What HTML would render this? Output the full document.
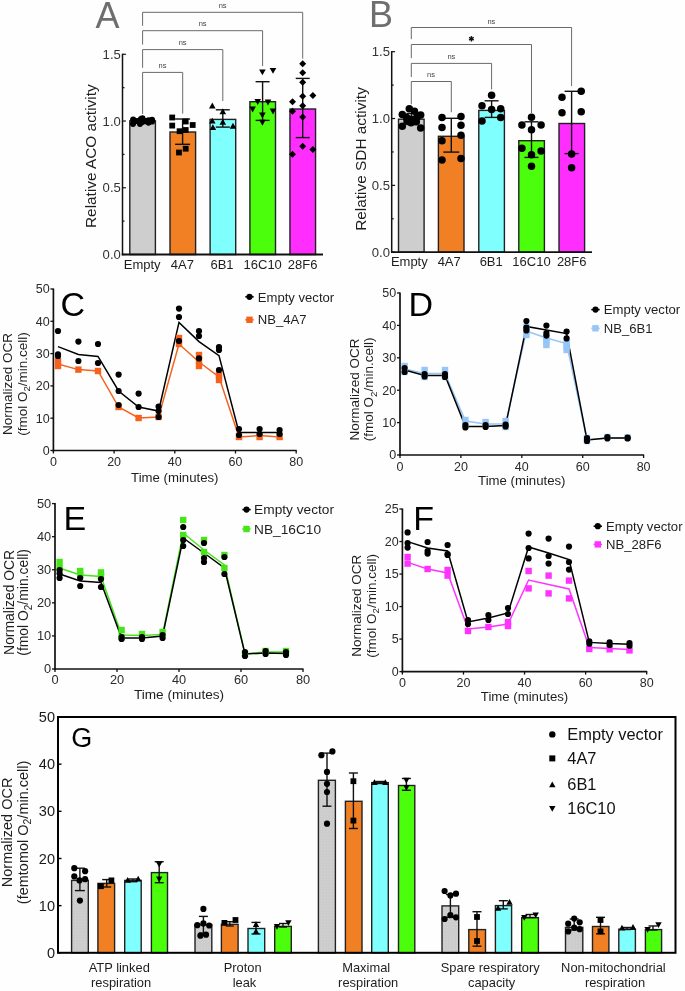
<!DOCTYPE html>
<html><head><meta charset="utf-8"><style>
html,body{margin:0;padding:0;background:#fff;}
svg{display:block;font-family:"Liberation Sans", sans-serif;filter:blur(0.5px);}
</style></head><body>
<svg width="685" height="991" viewBox="0 0 685 991">
<rect width="685" height="991" fill="#fefefe"/>
<rect x="129.80" y="120.80" width="25.60" height="133.70" fill="#cecece" stroke="#222" stroke-width="1.4" />
<rect x="170.00" y="132.00" width="25.60" height="122.50" fill="#f08023" stroke="#222" stroke-width="1.4" />
<rect x="210.10" y="119.40" width="25.60" height="135.10" fill="#80ffff" stroke="#222" stroke-width="1.4" />
<rect x="249.90" y="101.70" width="25.60" height="152.80" fill="#4bff0c" stroke="#222" stroke-width="1.4" />
<rect x="289.95" y="109.00" width="25.60" height="145.50" fill="#ff2eff" stroke="#222" stroke-width="1.4" />
<line x1="122.50" y1="53.70" x2="122.50" y2="255.30" stroke="#111" stroke-width="1.5" />
<line x1="121.80" y1="254.50" x2="323.00" y2="254.50" stroke="#111" stroke-width="1.8" />
<line x1="122.50" y1="254.50" x2="125.90" y2="254.50" stroke="#111" stroke-width="1.2" />
<line x1="122.50" y1="221.13" x2="124.50" y2="221.13" stroke="#111" stroke-width="1.2" />
<line x1="122.50" y1="187.77" x2="125.90" y2="187.77" stroke="#111" stroke-width="1.2" />
<line x1="122.50" y1="154.40" x2="124.50" y2="154.40" stroke="#111" stroke-width="1.2" />
<line x1="122.50" y1="121.03" x2="125.90" y2="121.03" stroke="#111" stroke-width="1.2" />
<line x1="122.50" y1="87.67" x2="124.50" y2="87.67" stroke="#111" stroke-width="1.2" />
<line x1="122.50" y1="54.30" x2="125.90" y2="54.30" stroke="#111" stroke-width="1.2" />
<text x="120.80" y="259.00" font-size="13.1" text-anchor="end" fill="#333" >0.0</text>
<text x="120.80" y="192.27" font-size="13.1" text-anchor="end" fill="#333" >0.5</text>
<text x="120.80" y="125.53" font-size="13.1" text-anchor="end" fill="#333" >1.0</text>
<text x="120.80" y="58.80" font-size="13.1" text-anchor="end" fill="#333" >1.5</text>
<text x="142.20" y="269.00" font-size="13" text-anchor="middle" fill="#1e1e1e" >Empty</text>
<text x="182.40" y="269.00" font-size="13" text-anchor="middle" fill="#1e1e1e" >4A7</text>
<text x="222.00" y="269.00" font-size="13" text-anchor="middle" fill="#1e1e1e" >6B1</text>
<text x="262.70" y="269.00" font-size="13" text-anchor="middle" fill="#1e1e1e" >16C10</text>
<text x="302.60" y="269.00" font-size="13" text-anchor="middle" fill="#1e1e1e" >28F6</text>
<text transform="translate(96.3,156.2) rotate(-90)" font-size="15.4" text-anchor="middle" fill="#1e1e1e">Relative ACO activity</text>
<text x="95.60" y="28.00" font-size="36" text-anchor="start" fill="#6e6e6e" >A</text>
<polyline points="142.60,114.00 142.60,72.40 182.70,72.40 182.70,113.60" fill="none" stroke="#6a6a6a" stroke-width="1"/>
<text x="162.50" y="68.00" font-size="7.5" text-anchor="middle" fill="#444" >ns</text>
<polyline points="142.60,67.80 142.60,49.60 222.80,49.60 222.80,101.00" fill="none" stroke="#6a6a6a" stroke-width="1"/>
<text x="182.60" y="45.00" font-size="7.5" text-anchor="middle" fill="#444" >ns</text>
<polyline points="142.60,44.60 142.60,30.70 262.60,30.70 262.60,66.00" fill="none" stroke="#6a6a6a" stroke-width="1"/>
<text x="202.60" y="26.20" font-size="7.5" text-anchor="middle" fill="#444" >ns</text>
<polyline points="142.60,25.80 142.60,12.30 302.70,12.30 302.70,58.60" fill="none" stroke="#6a6a6a" stroke-width="1"/>
<text x="222.60" y="7.80" font-size="7.5" text-anchor="middle" fill="#444" >ns</text>
<line x1="142.60" y1="119.20" x2="142.60" y2="122.80" stroke="#111" stroke-width="1.4" />
<line x1="137.60" y1="119.20" x2="147.60" y2="119.20" stroke="#111" stroke-width="1.4" />
<line x1="137.60" y1="122.80" x2="147.60" y2="122.80" stroke="#111" stroke-width="1.4" />
<line x1="182.60" y1="119.00" x2="182.60" y2="144.30" stroke="#111" stroke-width="1.4" />
<line x1="175.10" y1="119.00" x2="190.10" y2="119.00" stroke="#111" stroke-width="1.4" />
<line x1="175.10" y1="144.30" x2="190.10" y2="144.30" stroke="#111" stroke-width="1.4" />
<line x1="222.80" y1="109.80" x2="222.80" y2="127.10" stroke="#111" stroke-width="1.4" />
<line x1="215.80" y1="109.80" x2="229.80" y2="109.80" stroke="#111" stroke-width="1.4" />
<line x1="215.80" y1="127.10" x2="229.80" y2="127.10" stroke="#111" stroke-width="1.4" />
<line x1="262.60" y1="81.70" x2="262.60" y2="120.40" stroke="#111" stroke-width="1.4" />
<line x1="255.60" y1="81.70" x2="269.60" y2="81.70" stroke="#111" stroke-width="1.4" />
<line x1="255.60" y1="120.40" x2="269.60" y2="120.40" stroke="#111" stroke-width="1.4" />
<line x1="302.70" y1="78.40" x2="302.70" y2="137.60" stroke="#111" stroke-width="1.4" />
<line x1="295.70" y1="78.40" x2="309.70" y2="78.40" stroke="#111" stroke-width="1.4" />
<line x1="295.70" y1="137.60" x2="309.70" y2="137.60" stroke="#111" stroke-width="1.4" />
<circle cx="133.20" cy="119.60" r="3.1" fill="#000"/>
<circle cx="133.00" cy="123.80" r="3.1" fill="#000"/>
<circle cx="137.00" cy="121.00" r="3.1" fill="#000"/>
<circle cx="141.00" cy="119.00" r="3.1" fill="#000"/>
<circle cx="142.40" cy="118.30" r="3.1" fill="#000"/>
<circle cx="142.00" cy="122.00" r="3.1" fill="#000"/>
<circle cx="140.00" cy="123.80" r="3.1" fill="#000"/>
<circle cx="145.50" cy="121.20" r="3.1" fill="#000"/>
<circle cx="148.50" cy="120.30" r="3.1" fill="#000"/>
<circle cx="148.50" cy="122.60" r="3.1" fill="#000"/>
<circle cx="152.00" cy="119.80" r="3.1" fill="#000"/>
<circle cx="152.00" cy="121.50" r="3.1" fill="#000"/>
<rect x="169.30" y="114.60" width="5.8" height="5.8" fill="#000"/>
<rect x="169.30" y="122.70" width="5.8" height="5.8" fill="#000"/>
<rect x="182.80" y="118.60" width="5.8" height="5.8" fill="#000"/>
<rect x="189.80" y="122.10" width="5.8" height="5.8" fill="#000"/>
<rect x="176.70" y="128.30" width="5.8" height="5.8" fill="#000"/>
<rect x="182.80" y="127.10" width="5.8" height="5.8" fill="#000"/>
<rect x="182.80" y="145.80" width="5.8" height="5.8" fill="#000"/>
<rect x="176.10" y="149.60" width="5.8" height="5.8" fill="#000"/>
<polygon points="212.30,102.44 209.00,108.38 215.60,108.38" fill="#000"/>
<polygon points="222.80,108.34 219.50,114.28 226.10,114.28" fill="#000"/>
<polygon points="212.30,117.64 209.00,123.58 215.60,123.58" fill="#000"/>
<polygon points="222.80,118.84 219.50,124.78 226.10,124.78" fill="#000"/>
<polygon points="212.90,124.14 209.60,130.08 216.20,130.08" fill="#000"/>
<polygon points="233.00,122.84 229.70,128.78 236.30,128.78" fill="#000"/>
<polygon points="262.40,75.36 259.10,69.42 265.70,69.42" fill="#000"/>
<polygon points="273.00,73.86 269.70,67.92 276.30,67.92" fill="#000"/>
<polygon points="257.70,104.96 254.40,99.02 261.00,99.02" fill="#000"/>
<polygon points="268.00,105.56 264.70,99.62 271.30,99.62" fill="#000"/>
<polygon points="252.60,112.56 249.30,106.62 255.90,106.62" fill="#000"/>
<polygon points="273.00,114.56 269.70,108.62 276.30,108.62" fill="#000"/>
<polygon points="262.40,118.46 259.10,112.52 265.70,112.52" fill="#000"/>
<polygon points="262.40,125.76 259.10,119.82 265.70,119.82" fill="#000"/>
<polygon points="302.70,60.30 306.20,63.80 302.70,67.30 299.20,63.80" fill="#000"/>
<polygon points="302.70,69.30 306.20,72.80 302.70,76.30 299.20,72.80" fill="#000"/>
<polygon points="302.70,78.80 306.20,82.30 302.70,85.80 299.20,82.30" fill="#000"/>
<polygon points="302.70,92.70 306.20,96.20 302.70,99.70 299.20,96.20" fill="#000"/>
<polygon points="312.90,92.10 316.40,95.60 312.90,99.10 309.40,95.60" fill="#000"/>
<polygon points="292.50,98.20 296.00,101.70 292.50,105.20 289.00,101.70" fill="#000"/>
<polygon points="302.70,102.30 306.20,105.80 302.70,109.30 299.20,105.80" fill="#000"/>
<polygon points="292.50,107.70 296.00,111.20 292.50,114.70 289.00,111.20" fill="#000"/>
<polygon points="302.70,113.50 306.20,117.00 302.70,120.50 299.20,117.00" fill="#000"/>
<polygon points="302.70,142.70 306.20,146.20 302.70,149.70 299.20,146.20" fill="#000"/>
<polygon points="312.90,146.10 316.40,149.60 312.90,153.10 309.40,149.60" fill="#000"/>
<polygon points="292.50,150.80 296.00,154.30 292.50,157.80 289.00,154.30" fill="#000"/>
<rect x="398.50" y="119.20" width="25.60" height="133.00" fill="#cecece" stroke="#222" stroke-width="1.4" />
<rect x="438.40" y="136.30" width="25.60" height="115.90" fill="#f08023" stroke="#222" stroke-width="1.4" />
<rect x="478.80" y="110.40" width="25.60" height="141.80" fill="#80ffff" stroke="#222" stroke-width="1.4" />
<rect x="518.80" y="140.70" width="25.60" height="111.50" fill="#4bff0c" stroke="#222" stroke-width="1.4" />
<rect x="559.00" y="123.50" width="25.60" height="128.70" fill="#ff2eff" stroke="#222" stroke-width="1.4" />
<line x1="391.70" y1="51.10" x2="391.70" y2="253.00" stroke="#111" stroke-width="1.5" />
<line x1="391.00" y1="252.20" x2="592.00" y2="252.20" stroke="#111" stroke-width="1.8" />
<line x1="391.70" y1="252.20" x2="395.10" y2="252.20" stroke="#111" stroke-width="1.2" />
<line x1="391.70" y1="218.78" x2="393.70" y2="218.78" stroke="#111" stroke-width="1.2" />
<line x1="391.70" y1="185.37" x2="395.10" y2="185.37" stroke="#111" stroke-width="1.2" />
<line x1="391.70" y1="151.95" x2="393.70" y2="151.95" stroke="#111" stroke-width="1.2" />
<line x1="391.70" y1="118.53" x2="395.10" y2="118.53" stroke="#111" stroke-width="1.2" />
<line x1="391.70" y1="85.12" x2="393.70" y2="85.12" stroke="#111" stroke-width="1.2" />
<line x1="391.70" y1="51.70" x2="395.10" y2="51.70" stroke="#111" stroke-width="1.2" />
<text x="390.00" y="256.70" font-size="13.1" text-anchor="end" fill="#333" >0.0</text>
<text x="390.00" y="189.87" font-size="13.1" text-anchor="end" fill="#333" >0.5</text>
<text x="390.00" y="123.03" font-size="13.1" text-anchor="end" fill="#333" >1.0</text>
<text x="390.00" y="56.20" font-size="13.1" text-anchor="end" fill="#333" >1.5</text>
<text x="409.30" y="266.40" font-size="13" text-anchor="middle" fill="#1e1e1e" >Empty</text>
<text x="449.20" y="266.40" font-size="13" text-anchor="middle" fill="#1e1e1e" >4A7</text>
<text x="491.20" y="266.40" font-size="13" text-anchor="middle" fill="#1e1e1e" >6B1</text>
<text x="531.50" y="266.40" font-size="13" text-anchor="middle" fill="#1e1e1e" >16C10</text>
<text x="571.70" y="266.40" font-size="13" text-anchor="middle" fill="#1e1e1e" >28F6</text>
<text transform="translate(366,159) rotate(-90)" font-size="15.4" text-anchor="middle" fill="#1e1e1e">Relative SDH activity</text>
<text x="368.90" y="27.30" font-size="36" text-anchor="start" fill="#6e6e6e" >B</text>
<polyline points="411.30,104.30 411.30,81.50 451.30,81.50 451.30,112.20" fill="none" stroke="#6a6a6a" stroke-width="1"/>
<text x="431.00" y="76.80" font-size="7.5" text-anchor="middle" fill="#444" >ns</text>
<polyline points="411.30,77.00 411.30,63.40 491.60,63.40 491.60,89.40" fill="none" stroke="#6a6a6a" stroke-width="1"/>
<text x="451.40" y="58.70" font-size="7.5" text-anchor="middle" fill="#444" >ns</text>
<polyline points="411.30,58.20 411.30,44.50 531.50,44.50 531.50,113.00" fill="none" stroke="#6a6a6a" stroke-width="1"/>
<line x1="471.40" y1="36.10" x2="471.40" y2="41.50" stroke="#111" stroke-width="1.5" />
<line x1="469.06" y1="37.45" x2="473.74" y2="40.15" stroke="#111" stroke-width="1.5" />
<line x1="469.06" y1="40.15" x2="473.74" y2="37.45" stroke="#111" stroke-width="1.5" />
<polyline points="411.30,39.20 411.30,27.50 571.60,27.50 571.60,86.00" fill="none" stroke="#6a6a6a" stroke-width="1"/>
<text x="491.40" y="23.70" font-size="7.5" text-anchor="middle" fill="#444" >ns</text>
<line x1="411.30" y1="113.50" x2="411.30" y2="124.50" stroke="#111" stroke-width="1.4" />
<line x1="406.30" y1="113.50" x2="416.30" y2="113.50" stroke="#111" stroke-width="1.4" />
<line x1="406.30" y1="124.50" x2="416.30" y2="124.50" stroke="#111" stroke-width="1.4" />
<line x1="451.30" y1="118.30" x2="451.30" y2="152.10" stroke="#111" stroke-width="1.4" />
<line x1="443.30" y1="118.30" x2="459.30" y2="118.30" stroke="#111" stroke-width="1.4" />
<line x1="443.30" y1="152.10" x2="459.30" y2="152.10" stroke="#111" stroke-width="1.4" />
<line x1="491.60" y1="100.80" x2="491.60" y2="117.40" stroke="#111" stroke-width="1.4" />
<line x1="484.60" y1="100.80" x2="498.60" y2="100.80" stroke="#111" stroke-width="1.4" />
<line x1="484.60" y1="117.40" x2="498.60" y2="117.40" stroke="#111" stroke-width="1.4" />
<line x1="531.50" y1="121.80" x2="531.50" y2="157.40" stroke="#111" stroke-width="1.4" />
<line x1="524.50" y1="121.80" x2="538.50" y2="121.80" stroke="#111" stroke-width="1.4" />
<line x1="524.50" y1="157.40" x2="538.50" y2="157.40" stroke="#111" stroke-width="1.4" />
<line x1="571.60" y1="91.30" x2="571.60" y2="153.60" stroke="#111" stroke-width="1.4" />
<line x1="564.60" y1="91.30" x2="578.60" y2="91.30" stroke="#111" stroke-width="1.4" />
<line x1="564.60" y1="153.60" x2="578.60" y2="153.60" stroke="#111" stroke-width="1.4" />
<circle cx="409.30" cy="108.70" r="3.75" fill="#000"/>
<circle cx="414.50" cy="111.30" r="3.75" fill="#000"/>
<circle cx="402.30" cy="114.40" r="3.75" fill="#000"/>
<circle cx="420.70" cy="115.10" r="3.75" fill="#000"/>
<circle cx="406.60" cy="117.40" r="3.75" fill="#000"/>
<circle cx="411.90" cy="119.20" r="3.75" fill="#000"/>
<circle cx="416.30" cy="121.80" r="3.75" fill="#000"/>
<circle cx="402.30" cy="126.20" r="3.75" fill="#000"/>
<circle cx="420.70" cy="127.90" r="3.75" fill="#000"/>
<circle cx="411.00" cy="122.70" r="3.75" fill="#000"/>
<circle cx="407.00" cy="121.00" r="3.75" fill="#000"/>
<circle cx="417.00" cy="117.00" r="3.75" fill="#000"/>
<circle cx="442.00" cy="117.40" r="3.75" fill="#000"/>
<circle cx="461.00" cy="116.50" r="3.75" fill="#000"/>
<circle cx="442.00" cy="127.60" r="3.75" fill="#000"/>
<circle cx="461.00" cy="125.30" r="3.75" fill="#000"/>
<circle cx="461.00" cy="135.30" r="3.75" fill="#000"/>
<circle cx="442.00" cy="140.70" r="3.75" fill="#000"/>
<circle cx="442.00" cy="160.00" r="3.75" fill="#000"/>
<circle cx="461.00" cy="158.60" r="3.75" fill="#000"/>
<circle cx="491.60" cy="95.20" r="3.75" fill="#000"/>
<circle cx="482.00" cy="105.70" r="3.75" fill="#000"/>
<circle cx="491.60" cy="109.50" r="3.75" fill="#000"/>
<circle cx="500.70" cy="108.70" r="3.75" fill="#000"/>
<circle cx="482.00" cy="120.90" r="3.75" fill="#000"/>
<circle cx="500.70" cy="117.40" r="3.75" fill="#000"/>
<circle cx="531.50" cy="117.30" r="3.75" fill="#000"/>
<circle cx="521.90" cy="125.00" r="3.75" fill="#000"/>
<circle cx="541.10" cy="125.00" r="3.75" fill="#000"/>
<circle cx="531.50" cy="129.80" r="3.75" fill="#000"/>
<circle cx="521.90" cy="148.30" r="3.75" fill="#000"/>
<circle cx="541.10" cy="151.00" r="3.75" fill="#000"/>
<circle cx="531.50" cy="154.80" r="3.75" fill="#000"/>
<circle cx="531.50" cy="166.20" r="3.75" fill="#000"/>
<circle cx="581.20" cy="91.30" r="3.75" fill="#000"/>
<circle cx="562.00" cy="97.30" r="3.75" fill="#000"/>
<circle cx="562.00" cy="112.80" r="3.75" fill="#000"/>
<circle cx="581.20" cy="111.70" r="3.75" fill="#000"/>
<circle cx="571.60" cy="154.00" r="3.75" fill="#000"/>
<circle cx="571.60" cy="167.70" r="3.75" fill="#000"/>
<line x1="53.40" y1="288.50" x2="53.40" y2="451.40" stroke="#111" stroke-width="1.7" />
<line x1="52.60" y1="450.50" x2="296.70" y2="450.50" stroke="#111" stroke-width="1.7" />
<line x1="50.40" y1="450.50" x2="53.40" y2="450.50" stroke="#111" stroke-width="1.3" />
<text x="49.60" y="454.80" font-size="12.5" text-anchor="end" fill="#2a2a2a" >0</text>
<line x1="50.40" y1="418.20" x2="53.40" y2="418.20" stroke="#111" stroke-width="1.3" />
<text x="49.60" y="422.50" font-size="12.5" text-anchor="end" fill="#2a2a2a" >10</text>
<line x1="50.40" y1="385.90" x2="53.40" y2="385.90" stroke="#111" stroke-width="1.3" />
<text x="49.60" y="390.20" font-size="12.5" text-anchor="end" fill="#2a2a2a" >20</text>
<line x1="50.40" y1="353.60" x2="53.40" y2="353.60" stroke="#111" stroke-width="1.3" />
<text x="49.60" y="357.90" font-size="12.5" text-anchor="end" fill="#2a2a2a" >30</text>
<line x1="50.40" y1="321.30" x2="53.40" y2="321.30" stroke="#111" stroke-width="1.3" />
<text x="49.60" y="325.60" font-size="12.5" text-anchor="end" fill="#2a2a2a" >40</text>
<line x1="50.40" y1="289.00" x2="53.40" y2="289.00" stroke="#111" stroke-width="1.3" />
<text x="49.60" y="293.30" font-size="12.5" text-anchor="end" fill="#2a2a2a" >50</text>
<line x1="53.40" y1="450.50" x2="53.40" y2="453.50" stroke="#111" stroke-width="1.3" />
<text x="53.40" y="465.70" font-size="12.5" text-anchor="middle" fill="#2a2a2a" >0</text>
<line x1="114.10" y1="450.50" x2="114.10" y2="453.50" stroke="#111" stroke-width="1.3" />
<text x="114.10" y="465.70" font-size="12.5" text-anchor="middle" fill="#2a2a2a" >20</text>
<line x1="174.80" y1="450.50" x2="174.80" y2="453.50" stroke="#111" stroke-width="1.3" />
<text x="174.80" y="465.70" font-size="12.5" text-anchor="middle" fill="#2a2a2a" >40</text>
<line x1="235.50" y1="450.50" x2="235.50" y2="453.50" stroke="#111" stroke-width="1.3" />
<text x="235.50" y="465.70" font-size="12.5" text-anchor="middle" fill="#2a2a2a" >60</text>
<line x1="296.20" y1="450.50" x2="296.20" y2="453.50" stroke="#111" stroke-width="1.3" />
<text x="296.20" y="465.70" font-size="12.5" text-anchor="middle" fill="#2a2a2a" >80</text>
<text x="174.80" y="481.60" font-size="13.2" text-anchor="middle" fill="#1e1e1e" >Time (minutes)</text>
<text transform="translate(12.00,384.00) rotate(-90)" font-size="13.5" text-anchor="middle" fill="#1e1e1e">Normalized OCR</text>
<text transform="translate(26.80,384.00) rotate(-90)" font-size="13.5" text-anchor="middle" fill="#1e1e1e">(fmol O<tspan font-size="9.72" dy="3.5">2</tspan><tspan dy="-3.5">/min.cell)</tspan></text>
<text x="60.60" y="316.00" font-size="34" text-anchor="start" fill="#000" >C</text>
<polyline points="58.00,364.00 78.40,369.60 98.00,371.00 118.60,407.00 138.60,418.00 158.60,417.00 179.00,344.00 199.00,362.00 219.00,377.00 239.00,437.00 259.60,435.60 279.60,437.00" fill="none" stroke="#f6621c" stroke-width="1.5" stroke-linejoin="miter"/>
<polyline points="58.00,346.60 78.40,354.40 98.00,356.40 118.60,391.00 138.60,407.00 158.60,411.00 179.00,322.40 199.00,341.60 219.00,355.60 239.00,432.40 259.60,432.40 279.60,432.40" fill="none" stroke="#000" stroke-width="1.5" stroke-linejoin="miter"/>
<rect x="54.80" y="357.80" width="6.4" height="6.4" fill="#f6621c"/>
<rect x="54.80" y="362.80" width="6.4" height="6.4" fill="#f6621c"/>
<rect x="75.20" y="366.40" width="6.4" height="6.4" fill="#f6621c"/>
<rect x="94.80" y="367.80" width="6.4" height="6.4" fill="#f6621c"/>
<rect x="115.40" y="403.80" width="6.4" height="6.4" fill="#f6621c"/>
<rect x="135.40" y="414.80" width="6.4" height="6.4" fill="#f6621c"/>
<rect x="155.40" y="413.80" width="6.4" height="6.4" fill="#f6621c"/>
<rect x="175.80" y="334.80" width="6.4" height="6.4" fill="#f6621c"/>
<rect x="175.80" y="340.80" width="6.4" height="6.4" fill="#f6621c"/>
<rect x="195.80" y="351.80" width="6.4" height="6.4" fill="#f6621c"/>
<rect x="195.80" y="357.30" width="6.4" height="6.4" fill="#f6621c"/>
<rect x="195.80" y="362.80" width="6.4" height="6.4" fill="#f6621c"/>
<rect x="215.80" y="371.80" width="6.4" height="6.4" fill="#f6621c"/>
<rect x="215.80" y="376.80" width="6.4" height="6.4" fill="#f6621c"/>
<rect x="235.80" y="433.80" width="6.4" height="6.4" fill="#f6621c"/>
<rect x="256.40" y="433.80" width="6.4" height="6.4" fill="#f6621c"/>
<rect x="276.40" y="433.80" width="6.4" height="6.4" fill="#f6621c"/>
<circle cx="58.00" cy="331.00" r="3.1" fill="#000"/>
<circle cx="58.00" cy="354.40" r="3.1" fill="#000"/>
<circle cx="58.00" cy="356.00" r="3.1" fill="#000"/>
<circle cx="78.40" cy="341.60" r="3.1" fill="#000"/>
<circle cx="78.40" cy="361.00" r="3.1" fill="#000"/>
<circle cx="98.00" cy="344.00" r="3.1" fill="#000"/>
<circle cx="98.00" cy="363.00" r="3.1" fill="#000"/>
<circle cx="118.60" cy="374.60" r="3.1" fill="#000"/>
<circle cx="118.60" cy="391.00" r="3.1" fill="#000"/>
<circle cx="118.60" cy="405.00" r="3.1" fill="#000"/>
<circle cx="138.60" cy="393.60" r="3.1" fill="#000"/>
<circle cx="138.60" cy="407.00" r="3.1" fill="#000"/>
<circle cx="158.60" cy="406.60" r="3.1" fill="#000"/>
<circle cx="158.60" cy="411.00" r="3.1" fill="#000"/>
<circle cx="158.60" cy="417.00" r="3.1" fill="#000"/>
<circle cx="179.00" cy="308.60" r="3.1" fill="#000"/>
<circle cx="179.00" cy="317.00" r="3.1" fill="#000"/>
<circle cx="179.00" cy="341.00" r="3.1" fill="#000"/>
<circle cx="199.00" cy="331.00" r="3.1" fill="#000"/>
<circle cx="199.00" cy="336.00" r="3.1" fill="#000"/>
<circle cx="199.00" cy="358.40" r="3.1" fill="#000"/>
<circle cx="219.00" cy="347.00" r="3.1" fill="#000"/>
<circle cx="219.00" cy="350.00" r="3.1" fill="#000"/>
<circle cx="219.00" cy="370.00" r="3.1" fill="#000"/>
<circle cx="239.00" cy="429.00" r="3.1" fill="#000"/>
<circle cx="239.00" cy="435.00" r="3.1" fill="#000"/>
<circle cx="259.60" cy="429.00" r="3.1" fill="#000"/>
<circle cx="259.60" cy="434.00" r="3.1" fill="#000"/>
<circle cx="279.60" cy="430.00" r="3.1" fill="#000"/>
<circle cx="279.60" cy="434.00" r="3.1" fill="#000"/>
<line x1="245.30" y1="296.80" x2="253.70" y2="296.80" stroke="#000" stroke-width="1.5" />
<circle cx="249.50" cy="296.80" r="3.1" fill="#000"/>
<line x1="245.30" y1="319.80" x2="253.70" y2="319.80" stroke="#f6621c" stroke-width="1.5" />
<rect x="246.30" y="316.60" width="6.4" height="6.4" fill="#f6621c"/>
<text x="257.80" y="301.50" font-size="13.1" text-anchor="start" fill="#1e1e1e" >Empty vector</text>
<text x="257.80" y="324.30" font-size="13.1" text-anchor="start" fill="#1e1e1e" >NB_4A7</text>
<line x1="400.00" y1="292.50" x2="400.00" y2="455.90" stroke="#111" stroke-width="1.7" />
<line x1="399.20" y1="455.00" x2="644.10" y2="455.00" stroke="#111" stroke-width="1.7" />
<line x1="397.00" y1="455.00" x2="400.00" y2="455.00" stroke="#111" stroke-width="1.3" />
<text x="396.20" y="459.30" font-size="12.5" text-anchor="end" fill="#2a2a2a" >0</text>
<line x1="397.00" y1="422.60" x2="400.00" y2="422.60" stroke="#111" stroke-width="1.3" />
<text x="396.20" y="426.90" font-size="12.5" text-anchor="end" fill="#2a2a2a" >10</text>
<line x1="397.00" y1="390.20" x2="400.00" y2="390.20" stroke="#111" stroke-width="1.3" />
<text x="396.20" y="394.50" font-size="12.5" text-anchor="end" fill="#2a2a2a" >20</text>
<line x1="397.00" y1="357.80" x2="400.00" y2="357.80" stroke="#111" stroke-width="1.3" />
<text x="396.20" y="362.10" font-size="12.5" text-anchor="end" fill="#2a2a2a" >30</text>
<line x1="397.00" y1="325.40" x2="400.00" y2="325.40" stroke="#111" stroke-width="1.3" />
<text x="396.20" y="329.70" font-size="12.5" text-anchor="end" fill="#2a2a2a" >40</text>
<line x1="397.00" y1="293.00" x2="400.00" y2="293.00" stroke="#111" stroke-width="1.3" />
<text x="396.20" y="297.30" font-size="12.5" text-anchor="end" fill="#2a2a2a" >50</text>
<line x1="400.00" y1="455.00" x2="400.00" y2="458.00" stroke="#111" stroke-width="1.3" />
<text x="400.00" y="470.60" font-size="12.5" text-anchor="middle" fill="#2a2a2a" >0</text>
<line x1="460.90" y1="455.00" x2="460.90" y2="458.00" stroke="#111" stroke-width="1.3" />
<text x="460.90" y="470.60" font-size="12.5" text-anchor="middle" fill="#2a2a2a" >20</text>
<line x1="521.80" y1="455.00" x2="521.80" y2="458.00" stroke="#111" stroke-width="1.3" />
<text x="521.80" y="470.60" font-size="12.5" text-anchor="middle" fill="#2a2a2a" >40</text>
<line x1="582.70" y1="455.00" x2="582.70" y2="458.00" stroke="#111" stroke-width="1.3" />
<text x="582.70" y="470.60" font-size="12.5" text-anchor="middle" fill="#2a2a2a" >60</text>
<line x1="643.60" y1="455.00" x2="643.60" y2="458.00" stroke="#111" stroke-width="1.3" />
<text x="643.60" y="470.60" font-size="12.5" text-anchor="middle" fill="#2a2a2a" >80</text>
<text x="521.80" y="484.80" font-size="13.2" text-anchor="middle" fill="#1e1e1e" >Time (minutes)</text>
<text transform="translate(358.60,389.40) rotate(-90)" font-size="13.5" text-anchor="middle" fill="#1e1e1e">Normalized OCR</text>
<text transform="translate(373.40,389.40) rotate(-90)" font-size="13.5" text-anchor="middle" fill="#1e1e1e">(fmol O<tspan font-size="9.72" dy="3.5">2</tspan><tspan dy="-3.5">/min.cell)</tspan></text>
<text x="408.50" y="316.40" font-size="34" text-anchor="start" fill="#000" >D</text>
<polyline points="404.60,369.00 424.60,373.50 445.00,373.50 465.40,421.00 485.60,424.00 505.60,424.00 526.40,331.00 546.40,338.00 566.60,343.60 587.00,440.00 607.40,438.00 627.60,438.00" fill="none" stroke="#96c5f7" stroke-width="1.5" stroke-linejoin="miter"/>
<polyline points="404.60,370.00 424.60,375.40 445.00,375.40 465.40,426.40 485.60,426.40 505.60,425.60 526.40,326.40 546.40,330.00 566.60,333.60 587.00,440.00 607.40,438.00 627.60,438.00" fill="none" stroke="#000" stroke-width="1.5" stroke-linejoin="miter"/>
<rect x="401.40" y="362.80" width="6.4" height="6.4" fill="#96c5f7"/>
<rect x="401.40" y="368.80" width="6.4" height="6.4" fill="#96c5f7"/>
<rect x="421.40" y="366.80" width="6.4" height="6.4" fill="#96c5f7"/>
<rect x="421.40" y="373.80" width="6.4" height="6.4" fill="#96c5f7"/>
<rect x="441.80" y="366.80" width="6.4" height="6.4" fill="#96c5f7"/>
<rect x="441.80" y="373.80" width="6.4" height="6.4" fill="#96c5f7"/>
<rect x="462.20" y="416.80" width="6.4" height="6.4" fill="#96c5f7"/>
<rect x="462.20" y="420.80" width="6.4" height="6.4" fill="#96c5f7"/>
<rect x="482.40" y="418.80" width="6.4" height="6.4" fill="#96c5f7"/>
<rect x="482.40" y="421.80" width="6.4" height="6.4" fill="#96c5f7"/>
<rect x="502.40" y="417.80" width="6.4" height="6.4" fill="#96c5f7"/>
<rect x="502.40" y="423.80" width="6.4" height="6.4" fill="#96c5f7"/>
<rect x="523.20" y="323.80" width="6.4" height="6.4" fill="#96c5f7"/>
<rect x="523.20" y="327.80" width="6.4" height="6.4" fill="#96c5f7"/>
<rect x="523.20" y="331.80" width="6.4" height="6.4" fill="#96c5f7"/>
<rect x="543.20" y="334.80" width="6.4" height="6.4" fill="#96c5f7"/>
<rect x="543.20" y="338.30" width="6.4" height="6.4" fill="#96c5f7"/>
<rect x="543.20" y="341.80" width="6.4" height="6.4" fill="#96c5f7"/>
<rect x="563.40" y="339.80" width="6.4" height="6.4" fill="#96c5f7"/>
<rect x="563.40" y="343.30" width="6.4" height="6.4" fill="#96c5f7"/>
<rect x="563.40" y="346.80" width="6.4" height="6.4" fill="#96c5f7"/>
<rect x="583.80" y="434.80" width="6.4" height="6.4" fill="#96c5f7"/>
<rect x="583.80" y="437.80" width="6.4" height="6.4" fill="#96c5f7"/>
<rect x="604.20" y="433.80" width="6.4" height="6.4" fill="#96c5f7"/>
<rect x="624.40" y="434.30" width="6.4" height="6.4" fill="#96c5f7"/>
<circle cx="404.60" cy="368.00" r="3.1" fill="#000"/>
<circle cx="404.60" cy="372.00" r="3.1" fill="#000"/>
<circle cx="424.60" cy="374.00" r="3.1" fill="#000"/>
<circle cx="424.60" cy="376.40" r="3.1" fill="#000"/>
<circle cx="445.00" cy="374.00" r="3.1" fill="#000"/>
<circle cx="445.00" cy="377.00" r="3.1" fill="#000"/>
<circle cx="465.40" cy="425.00" r="3.1" fill="#000"/>
<circle cx="465.40" cy="427.50" r="3.1" fill="#000"/>
<circle cx="485.60" cy="425.00" r="3.1" fill="#000"/>
<circle cx="485.60" cy="427.00" r="3.1" fill="#000"/>
<circle cx="505.60" cy="424.50" r="3.1" fill="#000"/>
<circle cx="505.60" cy="426.50" r="3.1" fill="#000"/>
<circle cx="526.40" cy="321.00" r="3.1" fill="#000"/>
<circle cx="526.40" cy="327.60" r="3.1" fill="#000"/>
<circle cx="526.40" cy="330.40" r="3.1" fill="#000"/>
<circle cx="546.40" cy="325.60" r="3.1" fill="#000"/>
<circle cx="546.40" cy="333.00" r="3.1" fill="#000"/>
<circle cx="546.40" cy="335.60" r="3.1" fill="#000"/>
<circle cx="566.60" cy="331.60" r="3.1" fill="#000"/>
<circle cx="566.60" cy="338.40" r="3.1" fill="#000"/>
<circle cx="587.00" cy="438.00" r="3.1" fill="#000"/>
<circle cx="587.00" cy="441.00" r="3.1" fill="#000"/>
<circle cx="607.40" cy="437.00" r="3.1" fill="#000"/>
<circle cx="607.40" cy="438.50" r="3.1" fill="#000"/>
<circle cx="627.60" cy="437.50" r="3.1" fill="#000"/>
<circle cx="627.60" cy="438.50" r="3.1" fill="#000"/>
<line x1="591.30" y1="309.60" x2="599.70" y2="309.60" stroke="#000" stroke-width="1.5" />
<circle cx="595.50" cy="309.60" r="3.1" fill="#000"/>
<line x1="591.30" y1="328.30" x2="599.70" y2="328.30" stroke="#96c5f7" stroke-width="1.5" />
<rect x="592.30" y="325.10" width="6.4" height="6.4" fill="#96c5f7"/>
<text x="603.80" y="314.30" font-size="13.1" text-anchor="start" fill="#1e1e1e" >Empty vector</text>
<text x="603.80" y="332.80" font-size="13.1" text-anchor="start" fill="#1e1e1e" >NB_6B1</text>
<line x1="55.00" y1="503.10" x2="55.00" y2="669.90" stroke="#111" stroke-width="1.7" />
<line x1="54.20" y1="669.00" x2="303.50" y2="669.00" stroke="#111" stroke-width="1.7" />
<line x1="52.00" y1="669.00" x2="55.00" y2="669.00" stroke="#111" stroke-width="1.3" />
<text x="51.20" y="673.30" font-size="12.8" text-anchor="end" fill="#2a2a2a" >0</text>
<line x1="52.00" y1="635.92" x2="55.00" y2="635.92" stroke="#111" stroke-width="1.3" />
<text x="51.20" y="640.22" font-size="12.8" text-anchor="end" fill="#2a2a2a" >10</text>
<line x1="52.00" y1="602.84" x2="55.00" y2="602.84" stroke="#111" stroke-width="1.3" />
<text x="51.20" y="607.14" font-size="12.8" text-anchor="end" fill="#2a2a2a" >20</text>
<line x1="52.00" y1="569.76" x2="55.00" y2="569.76" stroke="#111" stroke-width="1.3" />
<text x="51.20" y="574.06" font-size="12.8" text-anchor="end" fill="#2a2a2a" >30</text>
<line x1="52.00" y1="536.68" x2="55.00" y2="536.68" stroke="#111" stroke-width="1.3" />
<text x="51.20" y="540.98" font-size="12.8" text-anchor="end" fill="#2a2a2a" >40</text>
<line x1="52.00" y1="503.60" x2="55.00" y2="503.60" stroke="#111" stroke-width="1.3" />
<text x="51.20" y="507.90" font-size="12.8" text-anchor="end" fill="#2a2a2a" >50</text>
<line x1="55.00" y1="669.00" x2="55.00" y2="672.00" stroke="#111" stroke-width="1.3" />
<text x="55.00" y="684.00" font-size="12.8" text-anchor="middle" fill="#2a2a2a" >0</text>
<line x1="117.00" y1="669.00" x2="117.00" y2="672.00" stroke="#111" stroke-width="1.3" />
<text x="117.00" y="684.00" font-size="12.8" text-anchor="middle" fill="#2a2a2a" >20</text>
<line x1="179.00" y1="669.00" x2="179.00" y2="672.00" stroke="#111" stroke-width="1.3" />
<text x="179.00" y="684.00" font-size="12.8" text-anchor="middle" fill="#2a2a2a" >40</text>
<line x1="241.00" y1="669.00" x2="241.00" y2="672.00" stroke="#111" stroke-width="1.3" />
<text x="241.00" y="684.00" font-size="12.8" text-anchor="middle" fill="#2a2a2a" >60</text>
<line x1="303.00" y1="669.00" x2="303.00" y2="672.00" stroke="#111" stroke-width="1.3" />
<text x="303.00" y="684.00" font-size="12.8" text-anchor="middle" fill="#2a2a2a" >80</text>
<text x="179.00" y="698.80" font-size="13.6" text-anchor="middle" fill="#1e1e1e" >Time (minutes)</text>
<text transform="translate(13.60,602.40) rotate(-90)" font-size="13.9" text-anchor="middle" fill="#1e1e1e">Normalized OCR</text>
<text transform="translate(28.40,602.40) rotate(-90)" font-size="13.9" text-anchor="middle" fill="#1e1e1e">(fmol O<tspan font-size="10.01" dy="3.5">2</tspan><tspan dy="-3.5">/min.cell)</tspan></text>
<text x="63.60" y="529.60" font-size="34" text-anchor="start" fill="#000" >E</text>
<polyline points="59.60,568.00 80.20,575.00 101.00,576.40 121.60,635.00 142.00,635.60 162.60,634.40 183.20,533.00 204.00,550.00 224.40,565.00 245.00,654.00 265.60,652.00 286.00,652.00" fill="none" stroke="#45e51a" stroke-width="1.5" stroke-linejoin="miter"/>
<polyline points="59.60,574.00 80.20,581.00 101.00,582.40 121.60,638.00 142.00,638.00 162.60,636.00 183.20,538.00 204.00,553.00 224.40,568.00 245.00,654.00 265.60,653.00 286.00,653.60" fill="none" stroke="#000" stroke-width="1.5" stroke-linejoin="miter"/>
<rect x="56.40" y="558.80" width="6.4" height="6.4" fill="#45e51a"/>
<rect x="56.40" y="564.80" width="6.4" height="6.4" fill="#45e51a"/>
<rect x="77.00" y="567.80" width="6.4" height="6.4" fill="#45e51a"/>
<rect x="77.00" y="571.80" width="6.4" height="6.4" fill="#45e51a"/>
<rect x="97.80" y="569.20" width="6.4" height="6.4" fill="#45e51a"/>
<rect x="97.80" y="572.80" width="6.4" height="6.4" fill="#45e51a"/>
<rect x="118.40" y="626.80" width="6.4" height="6.4" fill="#45e51a"/>
<rect x="118.40" y="633.80" width="6.4" height="6.4" fill="#45e51a"/>
<rect x="138.80" y="630.80" width="6.4" height="6.4" fill="#45e51a"/>
<rect x="159.40" y="628.80" width="6.4" height="6.4" fill="#45e51a"/>
<rect x="180.00" y="516.80" width="6.4" height="6.4" fill="#45e51a"/>
<rect x="180.00" y="531.80" width="6.4" height="6.4" fill="#45e51a"/>
<rect x="200.80" y="536.80" width="6.4" height="6.4" fill="#45e51a"/>
<rect x="200.80" y="548.80" width="6.4" height="6.4" fill="#45e51a"/>
<rect x="221.20" y="551.80" width="6.4" height="6.4" fill="#45e51a"/>
<rect x="221.20" y="564.80" width="6.4" height="6.4" fill="#45e51a"/>
<rect x="241.80" y="650.80" width="6.4" height="6.4" fill="#45e51a"/>
<rect x="262.40" y="647.80" width="6.4" height="6.4" fill="#45e51a"/>
<rect x="282.80" y="647.80" width="6.4" height="6.4" fill="#45e51a"/>
<circle cx="59.60" cy="570.00" r="3.1" fill="#000"/>
<circle cx="59.60" cy="573.60" r="3.1" fill="#000"/>
<circle cx="59.60" cy="578.00" r="3.1" fill="#000"/>
<circle cx="80.20" cy="578.00" r="3.1" fill="#000"/>
<circle cx="80.20" cy="586.00" r="3.1" fill="#000"/>
<circle cx="101.00" cy="579.00" r="3.1" fill="#000"/>
<circle cx="101.00" cy="587.00" r="3.1" fill="#000"/>
<circle cx="121.60" cy="637.00" r="3.1" fill="#000"/>
<circle cx="121.60" cy="639.00" r="3.1" fill="#000"/>
<circle cx="142.00" cy="637.00" r="3.1" fill="#000"/>
<circle cx="142.00" cy="639.00" r="3.1" fill="#000"/>
<circle cx="162.60" cy="635.00" r="3.1" fill="#000"/>
<circle cx="162.60" cy="638.00" r="3.1" fill="#000"/>
<circle cx="183.20" cy="527.00" r="3.1" fill="#000"/>
<circle cx="183.20" cy="540.00" r="3.1" fill="#000"/>
<circle cx="183.20" cy="546.00" r="3.1" fill="#000"/>
<circle cx="204.00" cy="543.00" r="3.1" fill="#000"/>
<circle cx="204.00" cy="558.00" r="3.1" fill="#000"/>
<circle cx="204.00" cy="562.00" r="3.1" fill="#000"/>
<circle cx="224.40" cy="557.00" r="3.1" fill="#000"/>
<circle cx="224.40" cy="574.00" r="3.1" fill="#000"/>
<circle cx="245.00" cy="652.00" r="3.1" fill="#000"/>
<circle cx="245.00" cy="656.00" r="3.1" fill="#000"/>
<circle cx="265.60" cy="651.00" r="3.1" fill="#000"/>
<circle cx="265.60" cy="654.00" r="3.1" fill="#000"/>
<circle cx="286.00" cy="652.00" r="3.1" fill="#000"/>
<circle cx="286.00" cy="655.00" r="3.1" fill="#000"/>
<line x1="242.30" y1="509.60" x2="250.70" y2="509.60" stroke="#000" stroke-width="1.5" />
<circle cx="246.50" cy="509.60" r="3.1" fill="#000"/>
<line x1="242.30" y1="529.00" x2="250.70" y2="529.00" stroke="#45e51a" stroke-width="1.5" />
<rect x="243.30" y="525.80" width="6.4" height="6.4" fill="#45e51a"/>
<text x="254.10" y="514.30" font-size="13.7" text-anchor="start" fill="#1e1e1e" >Empty vector</text>
<text x="254.10" y="533.50" font-size="13.7" text-anchor="start" fill="#1e1e1e" >NB_16C10</text>
<line x1="402.40" y1="508.50" x2="402.40" y2="672.50" stroke="#111" stroke-width="1.7" />
<line x1="401.60" y1="671.60" x2="647.20" y2="671.60" stroke="#111" stroke-width="1.7" />
<line x1="399.40" y1="671.60" x2="402.40" y2="671.60" stroke="#111" stroke-width="1.3" />
<text x="398.60" y="675.90" font-size="12.5" text-anchor="end" fill="#2a2a2a" >0</text>
<line x1="399.40" y1="639.08" x2="402.40" y2="639.08" stroke="#111" stroke-width="1.3" />
<text x="398.60" y="643.38" font-size="12.5" text-anchor="end" fill="#2a2a2a" >5</text>
<line x1="399.40" y1="606.56" x2="402.40" y2="606.56" stroke="#111" stroke-width="1.3" />
<text x="398.60" y="610.86" font-size="12.5" text-anchor="end" fill="#2a2a2a" >10</text>
<line x1="399.40" y1="574.04" x2="402.40" y2="574.04" stroke="#111" stroke-width="1.3" />
<text x="398.60" y="578.34" font-size="12.5" text-anchor="end" fill="#2a2a2a" >15</text>
<line x1="399.40" y1="541.52" x2="402.40" y2="541.52" stroke="#111" stroke-width="1.3" />
<text x="398.60" y="545.82" font-size="12.5" text-anchor="end" fill="#2a2a2a" >20</text>
<line x1="399.40" y1="509.00" x2="402.40" y2="509.00" stroke="#111" stroke-width="1.3" />
<text x="398.60" y="513.30" font-size="12.5" text-anchor="end" fill="#2a2a2a" >25</text>
<line x1="402.40" y1="671.60" x2="402.40" y2="674.60" stroke="#111" stroke-width="1.3" />
<text x="402.40" y="686.60" font-size="12.5" text-anchor="middle" fill="#2a2a2a" >0</text>
<line x1="463.48" y1="671.60" x2="463.48" y2="674.60" stroke="#111" stroke-width="1.3" />
<text x="463.48" y="686.60" font-size="12.5" text-anchor="middle" fill="#2a2a2a" >20</text>
<line x1="524.55" y1="671.60" x2="524.55" y2="674.60" stroke="#111" stroke-width="1.3" />
<text x="524.55" y="686.60" font-size="12.5" text-anchor="middle" fill="#2a2a2a" >40</text>
<line x1="585.62" y1="671.60" x2="585.62" y2="674.60" stroke="#111" stroke-width="1.3" />
<text x="585.62" y="686.60" font-size="12.5" text-anchor="middle" fill="#2a2a2a" >60</text>
<line x1="646.70" y1="671.60" x2="646.70" y2="674.60" stroke="#111" stroke-width="1.3" />
<text x="646.70" y="686.60" font-size="12.5" text-anchor="middle" fill="#2a2a2a" >80</text>
<text x="524.55" y="701.30" font-size="13.2" text-anchor="middle" fill="#1e1e1e" >Time (minutes)</text>
<text transform="translate(361.00,605.80) rotate(-90)" font-size="13.5" text-anchor="middle" fill="#1e1e1e">Normalized OCR</text>
<text transform="translate(375.80,605.80) rotate(-90)" font-size="13.5" text-anchor="middle" fill="#1e1e1e">(fmol O<tspan font-size="9.72" dy="3.5">2</tspan><tspan dy="-3.5">/min.cell)</tspan></text>
<text x="413.30" y="529.60" font-size="34" text-anchor="start" fill="#000" >F</text>
<polyline points="407.60,562.40 427.60,569.00 447.60,573.00 468.00,629.00 488.40,627.00 508.00,624.00 528.60,580.00 548.60,584.40 569.00,589.00 589.30,647.60 609.60,648.40 629.50,649.50" fill="none" stroke="#ff33ff" stroke-width="1.5" stroke-linejoin="miter"/>
<polyline points="407.60,541.60 427.60,548.00 447.60,551.00 468.00,622.00 488.40,618.00 508.00,613.00 528.60,547.00 548.60,553.00 569.00,559.60 589.30,642.40 609.60,643.60 629.50,644.30" fill="none" stroke="#000" stroke-width="1.5" stroke-linejoin="miter"/>
<rect x="404.40" y="553.80" width="6.4" height="6.4" fill="#ff33ff"/>
<rect x="404.40" y="560.40" width="6.4" height="6.4" fill="#ff33ff"/>
<rect x="424.40" y="565.80" width="6.4" height="6.4" fill="#ff33ff"/>
<rect x="444.40" y="566.80" width="6.4" height="6.4" fill="#ff33ff"/>
<rect x="444.40" y="572.40" width="6.4" height="6.4" fill="#ff33ff"/>
<rect x="464.80" y="627.80" width="6.4" height="6.4" fill="#ff33ff"/>
<rect x="485.20" y="623.80" width="6.4" height="6.4" fill="#ff33ff"/>
<rect x="504.80" y="618.80" width="6.4" height="6.4" fill="#ff33ff"/>
<rect x="504.80" y="622.80" width="6.4" height="6.4" fill="#ff33ff"/>
<rect x="525.40" y="567.80" width="6.4" height="6.4" fill="#ff33ff"/>
<rect x="525.40" y="585.20" width="6.4" height="6.4" fill="#ff33ff"/>
<rect x="545.40" y="572.40" width="6.4" height="6.4" fill="#ff33ff"/>
<rect x="545.40" y="590.20" width="6.4" height="6.4" fill="#ff33ff"/>
<rect x="565.80" y="577.40" width="6.4" height="6.4" fill="#ff33ff"/>
<rect x="565.80" y="595.20" width="6.4" height="6.4" fill="#ff33ff"/>
<rect x="586.10" y="645.80" width="6.4" height="6.4" fill="#ff33ff"/>
<rect x="606.40" y="646.10" width="6.4" height="6.4" fill="#ff33ff"/>
<rect x="626.30" y="647.20" width="6.4" height="6.4" fill="#ff33ff"/>
<circle cx="407.60" cy="532.40" r="3.1" fill="#000"/>
<circle cx="407.60" cy="543.00" r="3.1" fill="#000"/>
<circle cx="407.60" cy="547.60" r="3.1" fill="#000"/>
<circle cx="427.60" cy="542.00" r="3.1" fill="#000"/>
<circle cx="427.60" cy="551.00" r="3.1" fill="#000"/>
<circle cx="427.60" cy="553.60" r="3.1" fill="#000"/>
<circle cx="447.60" cy="545.00" r="3.1" fill="#000"/>
<circle cx="447.60" cy="554.00" r="3.1" fill="#000"/>
<circle cx="447.60" cy="555.00" r="3.1" fill="#000"/>
<circle cx="468.00" cy="620.00" r="3.1" fill="#000"/>
<circle cx="468.00" cy="624.00" r="3.1" fill="#000"/>
<circle cx="488.40" cy="615.00" r="3.1" fill="#000"/>
<circle cx="488.40" cy="620.00" r="3.1" fill="#000"/>
<circle cx="508.00" cy="608.00" r="3.1" fill="#000"/>
<circle cx="508.00" cy="614.00" r="3.1" fill="#000"/>
<circle cx="528.60" cy="533.60" r="3.1" fill="#000"/>
<circle cx="528.60" cy="548.00" r="3.1" fill="#000"/>
<circle cx="528.60" cy="558.40" r="3.1" fill="#000"/>
<circle cx="548.60" cy="538.60" r="3.1" fill="#000"/>
<circle cx="548.60" cy="556.00" r="3.1" fill="#000"/>
<circle cx="548.60" cy="563.60" r="3.1" fill="#000"/>
<circle cx="569.00" cy="546.60" r="3.1" fill="#000"/>
<circle cx="569.00" cy="562.00" r="3.1" fill="#000"/>
<circle cx="569.00" cy="569.60" r="3.1" fill="#000"/>
<circle cx="589.30" cy="641.30" r="3.1" fill="#000"/>
<circle cx="589.30" cy="643.70" r="3.1" fill="#000"/>
<circle cx="609.60" cy="642.30" r="3.1" fill="#000"/>
<circle cx="609.60" cy="645.00" r="3.1" fill="#000"/>
<circle cx="629.50" cy="643.00" r="3.1" fill="#000"/>
<circle cx="629.50" cy="645.70" r="3.1" fill="#000"/>
<line x1="593.60" y1="526.20" x2="602.00" y2="526.20" stroke="#000" stroke-width="1.5" />
<circle cx="597.80" cy="526.20" r="3.1" fill="#000"/>
<line x1="593.60" y1="544.40" x2="602.00" y2="544.40" stroke="#ff33ff" stroke-width="1.5" />
<rect x="594.60" y="541.20" width="6.4" height="6.4" fill="#ff33ff"/>
<text x="606.10" y="530.90" font-size="13.1" text-anchor="start" fill="#1e1e1e" >Empty vector</text>
<text x="606.10" y="548.90" font-size="13.1" text-anchor="start" fill="#1e1e1e" >NB_28F6</text>
<defs><pattern id="dots" width="3" height="3" patternUnits="userSpaceOnUse"><rect width="3" height="3" fill="#cbcbcb"/><rect width="1" height="1" fill="#d6d6d6"/><rect x="1.5" y="1.5" width="1" height="1" fill="#d6d6d6"/></pattern></defs>
<rect x="71.60" y="880.40" width="16.70" height="72.40" fill="url(#dots)" stroke="#222" stroke-width="1.4" />
<rect x="97.90" y="883.40" width="16.70" height="69.40" fill="#f08023" stroke="#222" stroke-width="1.4" />
<rect x="124.70" y="880.40" width="16.50" height="72.40" fill="#80ffff" stroke="#222" stroke-width="1.4" />
<rect x="151.40" y="872.60" width="16.10" height="80.20" fill="#4bff0c" stroke="#222" stroke-width="1.4" />
<rect x="195.00" y="924.70" width="16.80" height="28.10" fill="url(#dots)" stroke="#222" stroke-width="1.4" />
<rect x="221.40" y="924.30" width="16.70" height="28.50" fill="#f08023" stroke="#222" stroke-width="1.4" />
<rect x="248.00" y="928.50" width="16.70" height="24.30" fill="#80ffff" stroke="#222" stroke-width="1.4" />
<rect x="274.70" y="926.40" width="16.60" height="26.40" fill="#4bff0c" stroke="#222" stroke-width="1.4" />
<rect x="318.40" y="780.30" width="17.00" height="172.50" fill="url(#dots)" stroke="#222" stroke-width="1.4" />
<rect x="345.40" y="801.30" width="16.60" height="151.50" fill="#f08023" stroke="#222" stroke-width="1.4" />
<rect x="371.70" y="782.60" width="16.60" height="170.20" fill="#80ffff" stroke="#222" stroke-width="1.4" />
<rect x="398.50" y="785.50" width="16.30" height="167.30" fill="#4bff0c" stroke="#222" stroke-width="1.4" />
<rect x="442.00" y="905.90" width="16.70" height="46.90" fill="url(#dots)" stroke="#222" stroke-width="1.4" />
<rect x="468.80" y="929.60" width="16.70" height="23.20" fill="#f08023" stroke="#222" stroke-width="1.4" />
<rect x="495.40" y="905.60" width="16.20" height="47.20" fill="#80ffff" stroke="#222" stroke-width="1.4" />
<rect x="521.70" y="917.70" width="16.70" height="35.10" fill="#4bff0c" stroke="#222" stroke-width="1.4" />
<rect x="565.50" y="927.40" width="17.30" height="25.40" fill="url(#dots)" stroke="#222" stroke-width="1.4" />
<rect x="592.50" y="926.50" width="16.40" height="26.30" fill="#f08023" stroke="#222" stroke-width="1.4" />
<rect x="618.80" y="929.20" width="16.60" height="23.60" fill="#80ffff" stroke="#222" stroke-width="1.4" />
<rect x="645.40" y="929.60" width="16.20" height="23.20" fill="#4bff0c" stroke="#222" stroke-width="1.4" />
<line x1="79.90" y1="868.20" x2="79.90" y2="890.60" stroke="#111" stroke-width="1.4" />
<line x1="74.90" y1="868.20" x2="84.90" y2="868.20" stroke="#111" stroke-width="1.4" />
<line x1="74.90" y1="890.60" x2="84.90" y2="890.60" stroke="#111" stroke-width="1.4" />
<line x1="106.70" y1="879.60" x2="106.70" y2="887.00" stroke="#111" stroke-width="1.4" />
<line x1="102.20" y1="879.60" x2="111.20" y2="879.60" stroke="#111" stroke-width="1.4" />
<line x1="102.20" y1="887.00" x2="111.20" y2="887.00" stroke="#111" stroke-width="1.4" />
<line x1="133.00" y1="879.00" x2="133.00" y2="881.70" stroke="#111" stroke-width="1.4" />
<line x1="128.50" y1="879.00" x2="137.50" y2="879.00" stroke="#111" stroke-width="1.4" />
<line x1="128.50" y1="881.70" x2="137.50" y2="881.70" stroke="#111" stroke-width="1.4" />
<line x1="159.20" y1="861.70" x2="159.20" y2="882.70" stroke="#111" stroke-width="1.4" />
<line x1="154.70" y1="861.70" x2="163.70" y2="861.70" stroke="#111" stroke-width="1.4" />
<line x1="154.70" y1="882.70" x2="163.70" y2="882.70" stroke="#111" stroke-width="1.4" />
<line x1="203.40" y1="916.40" x2="203.40" y2="933.00" stroke="#111" stroke-width="1.4" />
<line x1="198.90" y1="916.40" x2="207.90" y2="916.40" stroke="#111" stroke-width="1.4" />
<line x1="198.90" y1="933.00" x2="207.90" y2="933.00" stroke="#111" stroke-width="1.4" />
<line x1="229.80" y1="921.70" x2="229.80" y2="926.00" stroke="#111" stroke-width="1.4" />
<line x1="225.80" y1="921.70" x2="233.80" y2="921.70" stroke="#111" stroke-width="1.4" />
<line x1="225.80" y1="926.00" x2="233.80" y2="926.00" stroke="#111" stroke-width="1.4" />
<line x1="256.00" y1="922.40" x2="256.00" y2="934.00" stroke="#111" stroke-width="1.4" />
<line x1="251.50" y1="922.40" x2="260.50" y2="922.40" stroke="#111" stroke-width="1.4" />
<line x1="251.50" y1="934.00" x2="260.50" y2="934.00" stroke="#111" stroke-width="1.4" />
<line x1="283.00" y1="923.50" x2="283.00" y2="927.00" stroke="#111" stroke-width="1.4" />
<line x1="279.00" y1="923.50" x2="287.00" y2="923.50" stroke="#111" stroke-width="1.4" />
<line x1="279.00" y1="927.00" x2="287.00" y2="927.00" stroke="#111" stroke-width="1.4" />
<line x1="327.00" y1="753.10" x2="327.00" y2="806.20" stroke="#111" stroke-width="1.4" />
<line x1="322.50" y1="753.10" x2="331.50" y2="753.10" stroke="#111" stroke-width="1.4" />
<line x1="322.50" y1="806.20" x2="331.50" y2="806.20" stroke="#111" stroke-width="1.4" />
<line x1="353.40" y1="773.00" x2="353.40" y2="828.50" stroke="#111" stroke-width="1.4" />
<line x1="348.90" y1="773.00" x2="357.90" y2="773.00" stroke="#111" stroke-width="1.4" />
<line x1="348.90" y1="828.50" x2="357.90" y2="828.50" stroke="#111" stroke-width="1.4" />
<line x1="380.00" y1="781.50" x2="380.00" y2="783.50" stroke="#111" stroke-width="1.4" />
<line x1="375.50" y1="781.50" x2="384.50" y2="781.50" stroke="#111" stroke-width="1.4" />
<line x1="375.50" y1="783.50" x2="384.50" y2="783.50" stroke="#111" stroke-width="1.4" />
<line x1="406.40" y1="778.50" x2="406.40" y2="790.30" stroke="#111" stroke-width="1.4" />
<line x1="401.90" y1="778.50" x2="410.90" y2="778.50" stroke="#111" stroke-width="1.4" />
<line x1="401.90" y1="790.30" x2="410.90" y2="790.30" stroke="#111" stroke-width="1.4" />
<line x1="450.40" y1="894.50" x2="450.40" y2="917.30" stroke="#111" stroke-width="1.4" />
<line x1="445.90" y1="894.50" x2="454.90" y2="894.50" stroke="#111" stroke-width="1.4" />
<line x1="445.90" y1="917.30" x2="454.90" y2="917.30" stroke="#111" stroke-width="1.4" />
<line x1="477.00" y1="911.70" x2="477.00" y2="946.20" stroke="#111" stroke-width="1.4" />
<line x1="472.50" y1="911.70" x2="481.50" y2="911.70" stroke="#111" stroke-width="1.4" />
<line x1="472.50" y1="946.20" x2="481.50" y2="946.20" stroke="#111" stroke-width="1.4" />
<line x1="503.30" y1="900.70" x2="503.30" y2="908.90" stroke="#111" stroke-width="1.4" />
<line x1="498.80" y1="900.70" x2="507.80" y2="900.70" stroke="#111" stroke-width="1.4" />
<line x1="498.80" y1="908.90" x2="507.80" y2="908.90" stroke="#111" stroke-width="1.4" />
<line x1="530.00" y1="914.50" x2="530.00" y2="917.50" stroke="#111" stroke-width="1.4" />
<line x1="525.50" y1="914.50" x2="534.50" y2="914.50" stroke="#111" stroke-width="1.4" />
<line x1="525.50" y1="917.50" x2="534.50" y2="917.50" stroke="#111" stroke-width="1.4" />
<line x1="574.20" y1="919.00" x2="574.20" y2="930.00" stroke="#111" stroke-width="1.4" />
<line x1="569.70" y1="919.00" x2="578.70" y2="919.00" stroke="#111" stroke-width="1.4" />
<line x1="569.70" y1="930.00" x2="578.70" y2="930.00" stroke="#111" stroke-width="1.4" />
<line x1="600.50" y1="917.30" x2="600.50" y2="933.80" stroke="#111" stroke-width="1.4" />
<line x1="596.00" y1="917.30" x2="605.00" y2="917.30" stroke="#111" stroke-width="1.4" />
<line x1="596.00" y1="933.80" x2="605.00" y2="933.80" stroke="#111" stroke-width="1.4" />
<line x1="627.00" y1="927.50" x2="627.00" y2="929.50" stroke="#111" stroke-width="1.4" />
<line x1="623.00" y1="927.50" x2="631.00" y2="927.50" stroke="#111" stroke-width="1.4" />
<line x1="623.00" y1="929.50" x2="631.00" y2="929.50" stroke="#111" stroke-width="1.4" />
<line x1="653.00" y1="926.00" x2="653.00" y2="930.00" stroke="#111" stroke-width="1.4" />
<line x1="648.50" y1="926.00" x2="657.50" y2="926.00" stroke="#111" stroke-width="1.4" />
<line x1="648.50" y1="930.00" x2="657.50" y2="930.00" stroke="#111" stroke-width="1.4" />
<circle cx="74.30" cy="868.20" r="3.1" fill="#000"/>
<circle cx="85.10" cy="871.20" r="3.1" fill="#000"/>
<circle cx="74.30" cy="876.40" r="3.1" fill="#000"/>
<circle cx="85.10" cy="879.20" r="3.1" fill="#000"/>
<circle cx="79.50" cy="880.40" r="3.1" fill="#000"/>
<circle cx="79.90" cy="900.60" r="3.1" fill="#000"/>
<circle cx="203.40" cy="908.90" r="3.1" fill="#000"/>
<circle cx="197.30" cy="925.20" r="3.1" fill="#000"/>
<circle cx="203.40" cy="923.40" r="3.1" fill="#000"/>
<circle cx="209.20" cy="925.50" r="3.1" fill="#000"/>
<circle cx="200.40" cy="935.70" r="3.1" fill="#000"/>
<circle cx="206.00" cy="934.70" r="3.1" fill="#000"/>
<circle cx="321.40" cy="755.20" r="3.1" fill="#000"/>
<circle cx="332.40" cy="751.40" r="3.1" fill="#000"/>
<circle cx="327.00" cy="771.90" r="3.1" fill="#000"/>
<circle cx="327.00" cy="783.80" r="3.1" fill="#000"/>
<circle cx="327.00" cy="792.00" r="3.1" fill="#000"/>
<circle cx="327.00" cy="823.70" r="3.1" fill="#000"/>
<circle cx="444.60" cy="891.00" r="3.1" fill="#000"/>
<circle cx="450.40" cy="895.40" r="3.1" fill="#000"/>
<circle cx="456.00" cy="893.70" r="3.1" fill="#000"/>
<circle cx="444.60" cy="919.00" r="3.1" fill="#000"/>
<circle cx="450.40" cy="915.20" r="3.1" fill="#000"/>
<circle cx="456.00" cy="917.30" r="3.1" fill="#000"/>
<circle cx="568.20" cy="923.70" r="3.1" fill="#000"/>
<circle cx="574.20" cy="918.60" r="3.1" fill="#000"/>
<circle cx="579.70" cy="922.30" r="3.1" fill="#000"/>
<circle cx="568.20" cy="931.40" r="3.1" fill="#000"/>
<circle cx="574.20" cy="927.70" r="3.1" fill="#000"/>
<circle cx="579.70" cy="929.20" r="3.1" fill="#000"/>
<rect x="98.00" y="883.30" width="5.8" height="5.8" fill="#000"/>
<rect x="108.50" y="877.50" width="5.8" height="5.8" fill="#000"/>
<rect x="221.50" y="920.00" width="5.8" height="5.8" fill="#000"/>
<rect x="232.60" y="917.10" width="5.8" height="5.8" fill="#000"/>
<rect x="350.50" y="778.30" width="5.8" height="5.8" fill="#000"/>
<rect x="350.50" y="817.70" width="5.8" height="5.8" fill="#000"/>
<rect x="474.10" y="914.10" width="5.8" height="5.8" fill="#000"/>
<rect x="474.10" y="938.10" width="5.8" height="5.8" fill="#000"/>
<rect x="597.60" y="917.10" width="5.8" height="5.8" fill="#000"/>
<rect x="597.60" y="928.50" width="5.8" height="5.8" fill="#000"/>
<polygon points="127.70,876.94 124.50,882.70 130.90,882.70" fill="#000"/>
<polygon points="138.20,875.74 135.00,881.50 141.40,881.50" fill="#000"/>
<polygon points="256.00,921.24 252.80,927.00 259.20,927.00" fill="#000"/>
<polygon points="256.00,928.24 252.80,934.00 259.20,934.00" fill="#000"/>
<polygon points="374.50,779.14 371.30,784.90 377.70,784.90" fill="#000"/>
<polygon points="385.30,779.14 382.10,784.90 388.50,784.90" fill="#000"/>
<polygon points="498.00,905.04 494.80,910.80 501.20,910.80" fill="#000"/>
<polygon points="509.50,898.94 506.30,904.70 512.70,904.70" fill="#000"/>
<polygon points="622.00,924.84 618.80,930.60 625.20,930.60" fill="#000"/>
<polygon points="633.00,923.94 629.80,929.70 636.20,929.70" fill="#000"/>
<polygon points="159.20,867.56 156.00,861.80 162.40,861.80" fill="#000"/>
<polygon points="159.20,882.16 156.00,876.40 162.40,876.40" fill="#000"/>
<polygon points="277.00,929.86 273.80,924.10 280.20,924.10" fill="#000"/>
<polygon points="288.40,926.06 285.20,920.30 291.60,920.30" fill="#000"/>
<polygon points="406.40,783.46 403.20,777.70 409.60,777.70" fill="#000"/>
<polygon points="406.40,790.76 403.20,785.00 409.60,785.00" fill="#000"/>
<polygon points="524.30,920.76 521.10,915.00 527.50,915.00" fill="#000"/>
<polygon points="535.70,918.16 532.50,912.40 538.90,912.40" fill="#000"/>
<polygon points="647.60,932.66 644.40,926.90 650.80,926.90" fill="#000"/>
<polygon points="658.50,928.06 655.30,922.30 661.70,922.30" fill="#000"/>
<rect x="58" y="717" width="617.5" height="235.79999999999995" fill="none" stroke="#000" stroke-width="2"/>
<line x1="58.00" y1="952.80" x2="61.50" y2="952.80" stroke="#000" stroke-width="1.4" />
<text x="55.00" y="957.90" font-size="14.5" text-anchor="end" fill="#1a1a1a" >0</text>
<line x1="58.00" y1="905.64" x2="61.50" y2="905.64" stroke="#000" stroke-width="1.4" />
<text x="55.00" y="910.74" font-size="14.5" text-anchor="end" fill="#1a1a1a" >10</text>
<line x1="58.00" y1="858.48" x2="61.50" y2="858.48" stroke="#000" stroke-width="1.4" />
<text x="55.00" y="863.58" font-size="14.5" text-anchor="end" fill="#1a1a1a" >20</text>
<line x1="58.00" y1="811.32" x2="61.50" y2="811.32" stroke="#000" stroke-width="1.4" />
<text x="55.00" y="816.42" font-size="14.5" text-anchor="end" fill="#1a1a1a" >30</text>
<line x1="58.00" y1="764.16" x2="61.50" y2="764.16" stroke="#000" stroke-width="1.4" />
<text x="55.00" y="769.26" font-size="14.5" text-anchor="end" fill="#1a1a1a" >40</text>
<line x1="58.00" y1="717.00" x2="61.50" y2="717.00" stroke="#000" stroke-width="1.4" />
<text x="55.00" y="722.10" font-size="14.5" text-anchor="end" fill="#1a1a1a" >50</text>
<text x="71.30" y="746.60" font-size="27" text-anchor="start" fill="#000" >G</text>
<text transform="translate(12.3,832.4) rotate(-90)" font-size="14.5" text-anchor="middle" fill="#1e1e1e">Normalized OCR</text>
<text transform="translate(27.6,832.4) rotate(-90)" font-size="14.5" text-anchor="middle" fill="#1e1e1e">(femtomol O<tspan font-size="10.4" dy="3.8">2</tspan><tspan dy="-3.8">/min.cell)</tspan></text>
<text x="119.25" y="972.10" font-size="12.9" text-anchor="middle" fill="#1e1e1e" >ATP linked</text>
<text x="121.10" y="986.50" font-size="12.9" text-anchor="middle" fill="#1e1e1e" >respiration</text>
<text x="242.70" y="972.10" font-size="12.9" text-anchor="middle" fill="#1e1e1e" >Proton</text>
<text x="244.50" y="986.50" font-size="12.9" text-anchor="middle" fill="#1e1e1e" >leak</text>
<text x="366.20" y="972.10" font-size="12.9" text-anchor="middle" fill="#1e1e1e" >Maximal</text>
<text x="368.20" y="986.50" font-size="12.9" text-anchor="middle" fill="#1e1e1e" >respiration</text>
<text x="490.20" y="972.10" font-size="12.9" text-anchor="middle" fill="#1e1e1e" >Spare respiratory</text>
<text x="491.60" y="986.50" font-size="12.9" text-anchor="middle" fill="#1e1e1e" >capacity</text>
<text x="613.40" y="972.10" font-size="12.9" text-anchor="middle" fill="#1e1e1e" >Non-mitochondrial</text>
<text x="615.00" y="986.50" font-size="12.9" text-anchor="middle" fill="#1e1e1e" >respiration</text>
<circle cx="552.30" cy="734.40" r="3.2" fill="#000"/>
<rect x="549.30" y="755.40" width="6" height="6" fill="#000"/>
<polygon points="552.30,781.54 549.10,787.30 555.50,787.30" fill="#000"/>
<polygon points="552.30,811.76 549.10,806.00 555.50,806.00" fill="#000"/>
<text x="567.30" y="739.50" font-size="16.4" text-anchor="start" fill="#111" >Empty vector</text>
<text x="567.30" y="763.60" font-size="16.4" text-anchor="start" fill="#111" >4A7</text>
<text x="567.30" y="789.60" font-size="16.4" text-anchor="start" fill="#111" >6B1</text>
<text x="567.30" y="813.70" font-size="16.4" text-anchor="start" fill="#111" >16C10</text>
</svg></body></html>
